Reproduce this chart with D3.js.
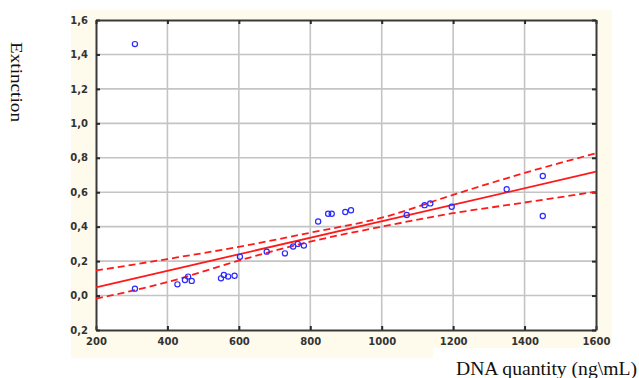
<!DOCTYPE html>
<html><head><meta charset="utf-8">
<script src="https://cdn.jsdelivr.net/npm/d3@7"></script>
<style>body{margin:0;background:#fff}svg{display:block}</style>
</head><body>
<svg id="c" width="639" height="378"></svg>
<script>
// data
const dnaQuantity = [309, 309, 428, 449, 458, 468, 550, 558, 570, 588, 603, 678, 729, 752, 765, 782, 822, 850, 860, 898, 914, 1070, 1120, 1136, 1196, 1350, 1451, 1451];
const extinction  = [1.46, 0.04, 0.065, 0.09, 0.11, 0.085, 0.10, 0.12, 0.11, 0.115, 0.225, 0.255, 0.245, 0.285, 0.30, 0.29, 0.43, 0.475, 0.475, 0.485, 0.495, 0.468, 0.525, 0.535, 0.516, 0.617, 0.694, 0.462];
const fitX = [200, 1600];
const fitY = [0.048, 0.719];
const bandX = [200, 400, 600, 800, 1000, 1200, 1400, 1600];
const bandUpper = [0.145, 0.212, 0.283, 0.365, 0.452, 0.585, 0.712, 0.826];
const bandLower = [-0.018, 0.078, 0.203, 0.313, 0.400, 0.478, 0.540, 0.603];
const xTicks = [200, 400, 600, 800, 1000, 1200, 1400, 1600];
const xTickLabels = ["200", "400", "600", "800", "1000", "1200", "1400", "1600"];
const yTicks = [-0.2, 0, 0.2, 0.4, 0.6, 0.8, 1.0, 1.2, 1.4, 1.6];
const yTickLabels = ["0,2", "0,0", "0,2", "0,4", "0,6", "0,8", "1,0", "1,2", "1,4", "1,6"];

const svg = d3.select("#c");
const L = 96, R = 596, T = 20, B = 330;
const x = d3.scaleLinear().domain([200, 1600]).range([L, R]);
const y = d3.scaleLinear().domain([-0.2, 1.6]).range([B, T]);

// beige panel
svg.append("rect").attr("x", 71).attr("y", 10).attr("width", 541).attr("height", 348).attr("fill", "#fefaec");
svg.append("rect").attr("x", 433).attr("y", 348).attr("width", 206).attr("height", 30).attr("fill", "#fff");
// plot background
svg.append("rect").attr("x", L).attr("y", T).attr("width", R - L).attr("height", B - T).attr("fill", "#fff");

// grid
const grid = svg.append("g").attr("stroke", "#c4c4c4").attr("stroke-width", 1.6);
grid.selectAll("line.v").data(xTicks.slice(1, -1)).join("line")
  .attr("x1", d => x(d)).attr("x2", d => x(d)).attr("y1", T).attr("y2", B);
grid.selectAll("line.h").data(yTicks.slice(1, -1)).join("line")
  .attr("x1", L).attr("x2", R).attr("y1", d => y(d)).attr("y2", d => y(d));

// axes with inward ticks
const fmtX = (d, i) => xTickLabels[i];
const fmtY = (d, i) => yTickLabels[i];
const axB = svg.append("g").attr("transform", `translate(0,${B})`)
  .call(d3.axisBottom(x).tickValues(xTicks).tickFormat(fmtX).tickSizeInner(-4).tickSizeOuter(0).tickPadding(10));
const axL = svg.append("g").attr("transform", `translate(${L},0)`)
  .call(d3.axisLeft(y).tickValues(yTicks).tickFormat(fmtY).tickSizeInner(-4).tickSizeOuter(0).tickPadding(8));
const axT = svg.append("g").attr("transform", `translate(0,${T})`)
  .call(d3.axisTop(x).tickValues(xTicks).tickFormat("").tickSizeInner(-4).tickSizeOuter(0));
const axR = svg.append("g").attr("transform", `translate(${R},0)`)
  .call(d3.axisRight(y).tickValues(yTicks).tickFormat("").tickSizeInner(-4).tickSizeOuter(0));
[axB, axL, axT, axR].forEach(a => {
  a.select(".domain").attr("stroke", "#3a3a3a").attr("stroke-width", 2);
  a.selectAll(".tick line").attr("stroke", "#2a2a2a").attr("stroke-width", 2);
  a.selectAll("text").attr("font-family", "DejaVu Sans, Verdana, sans-serif")
    .attr("font-size", 10).attr("font-weight", "bold").attr("fill", "#333");
});
axB.selectAll("text").attr("dy", "0.5em");

// regression line and confidence band
const line = d3.line().x(d => x(d[0])).y(d => y(d[1]));
const bandLine = d3.line().x(d => x(d[0])).y(d => y(d[1])).curve(d3.curveMonotoneX);
const red = "#ff1a1a";
svg.append("path").attr("d", line(d3.zip(fitX, fitY))).attr("fill", "none").attr("stroke", red).attr("stroke-width", 1.8);
[bandUpper, bandLower].forEach(b => {
  svg.append("path").attr("d", bandLine(d3.zip(bandX, b))).attr("fill", "none")
    .attr("stroke", red).attr("stroke-width", 1.8).attr("stroke-dasharray", "7,4");
});

// points
svg.append("g").selectAll("circle").data(d3.zip(dnaQuantity, extinction)).join("circle")
  .attr("cx", d => x(d[0])).attr("cy", d => y(d[1])).attr("r", 2.6)
  .attr("fill", "none").attr("stroke", "#2a2aff").attr("stroke-width", 1.2);

// axis titles
svg.append("text").attr("transform", "translate(11,82) rotate(90)").attr("text-anchor", "middle")
  .attr("font-family", "'Liberation Serif', 'Times New Roman', serif").attr("font-size", 17).attr("fill", "#111")
  .attr("textLength", 80).attr("lengthAdjust", "spacingAndGlyphs")
  .text("Extinction");
svg.append("text").attr("x", 637).attr("y", 375).attr("text-anchor", "end")
  .attr("font-family", "'Liberation Serif', 'Times New Roman', serif").attr("font-size", 18).attr("fill", "#111")
  .attr("textLength", 181).attr("lengthAdjust", "spacingAndGlyphs")
  .text("DNA quantity (ng\\mL)");
</script>
</body></html>
